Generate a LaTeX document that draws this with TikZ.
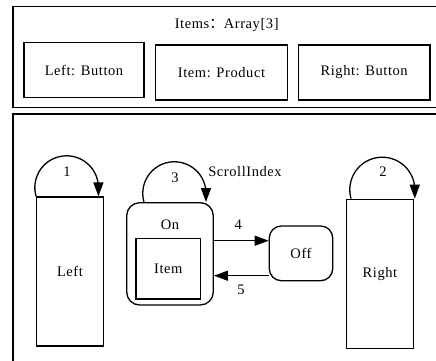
\documentclass[tikz,border=0pt]{standalone}
\usepackage{fontspec}
\setmainfont{Liberation Serif}[LetterSpace=4]
\newfontfamily\cjk{Noto Sans CJK SC}
\usetikzlibrary{arrows.meta,calc}
\tikzset{
  box/.style={draw, line width=1.3pt, inner sep=0pt},
  statebox/.style={box, rounded corners=13pt},
  framebox/.style={draw, line width=1.6pt, inner sep=0pt},
  arr/.style={-{Triangle[length=14pt,width=10pt]}, line width=1.3pt},
  lbl/.style={inner sep=0pt}
}
\begin{document}
\begin{tikzpicture}[x=1pt,y=1pt,font=\fontsize{14.5}{16}\selectfont]
\useasboundingbox (0,0) rectangle (436,360);
% frames
\node[framebox, minimum width=432.3pt, minimum height=101pt] (topframe) at (228.85,303) {};
\node[framebox, minimum width=432.3pt, minimum height=251pt] (botframe) at (228.85,120.5) {};
% top part
\node[lbl] (title) at (226.7,335) {Items{\cjk ：}Array[3]};
\node[box, minimum width=120pt, minimum height=55.2pt] (lb) at (84,290) {Left: Button};
\node[box, minimum width=131.6pt, minimum height=55pt] (ip) at (221.5,287.5) {Item: Product};
\node[box, minimum width=131.7pt, minimum height=55pt] (rb) at (364.15,287.5) {Right: Button};
% states
\node[box, minimum width=66.6pt, minimum height=149pt] (left) at (70,88.5) {Left};
\node[statebox, minimum width=86.6pt, minimum height=102.3pt] (on) at (170,106.15) {};
\node[lbl] (onlbl) at (170,135) {On};
\node[box, minimum width=64.7pt, minimum height=60.7pt] (item) at (168.35,91.35) {Item};
\node[statebox, rounded corners=12pt, minimum width=63.4pt, minimum height=54.7pt] (off) at (301,106.65) {Off};
\node[box, minimum width=66.6pt, minimum height=149pt] (right) at (380,86.2) {Right};
% loops
\draw[arr] (left.north west) arc[start angle=196, end angle=0, radius=31.8] -- ++(0,-8.8);
\draw[arr] ([xshift=-26pt]on.north) arc[start angle=196, end angle=0, radius=31.6] -- ++(0,-8.7);
\draw[arr] ([xshift=5pt]right.north west) arc[start angle=196, end angle=0, radius=32.5] -- ++(0,-9);
\node[lbl] (l1) at (67,188.3) {1};
\node[lbl] (l3) at (175,182) {3};
\node[lbl] (l2) at (383,188.3) {2};
\node[lbl] (scroll) at (245,188.3) {ScrollIndex};
% transitions
\coordinate (a4) at (0,119.3);
\coordinate (a5) at (0,84.3);
\draw[arr] (on.east |- a4) -- (off.west |- a4);
\draw[arr] (off.west |- a5) -- (on.east |- a5);
\node[lbl] (l4) at (238.3,135) {4};
\node[lbl] (l5) at (241,70) {5};
\end{tikzpicture}
\end{document}
